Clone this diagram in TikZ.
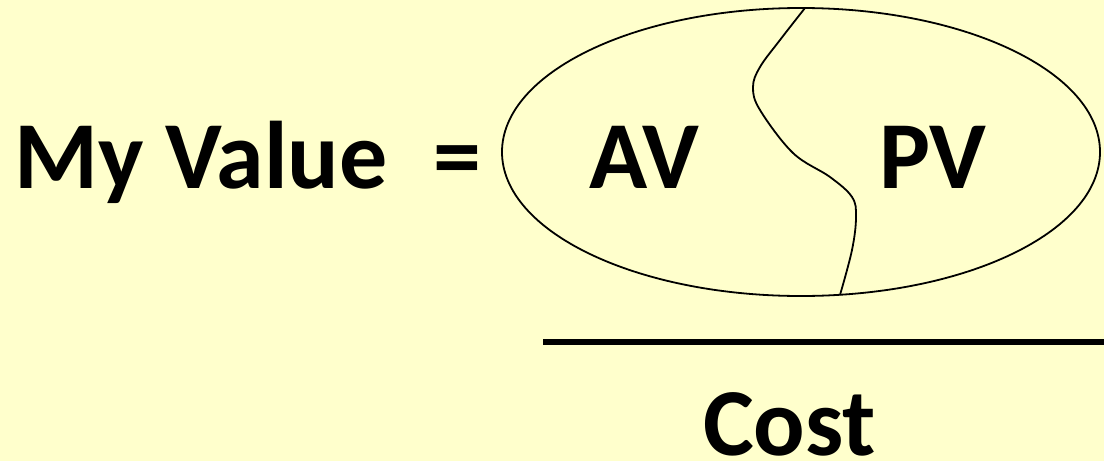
\documentclass[tikz,border=0pt]{standalone}
\usepackage{fontspec}
\setmainfont{Carlito}
\definecolor{bgyellow}{HTML}{FFFFCC}
\tikzset{
  bigtext/.style={font=\fontsize{96}{110}\selectfont\bfseries, inner sep=0pt, anchor=base west},
  thinline/.style={line width=1.8pt, black},
}
\begin{document}
\begin{tikzpicture}[x=1pt,y=-1pt]
\fill[bgyellow] (0,0) rectangle (1104,461);
\useasboundingbox (0,0) rectangle (1104,461);
\node[bigtext] (myvalue) at (14,188) {My Value};
\node[bigtext] (eq) at (433,188) {=};
\node[bigtext] (av) at (589,188) {AV};
\node[bigtext] (pv) at (879,188) {PV};
\node[bigtext] (cost) at (703,455) {Cost};
\draw[thinline] (801,152) ellipse [x radius=299, y radius=144];
\coordinate (ctop) at (805,8);
\coordinate (cbot) at (840,295);
\draw[thinline] plot[smooth, tension=0.6] coordinates {(805,8) (780,40) (760,67) (753,87) (760,110) (793,153) (830,177) (852,197) (856,217) (852,250) (840,295)};
\coordinate (la) at (543,342);
\coordinate (lb) at (1104,342);
\draw[line width=6pt] (la) -- (lb);
\end{tikzpicture}
\end{document}
